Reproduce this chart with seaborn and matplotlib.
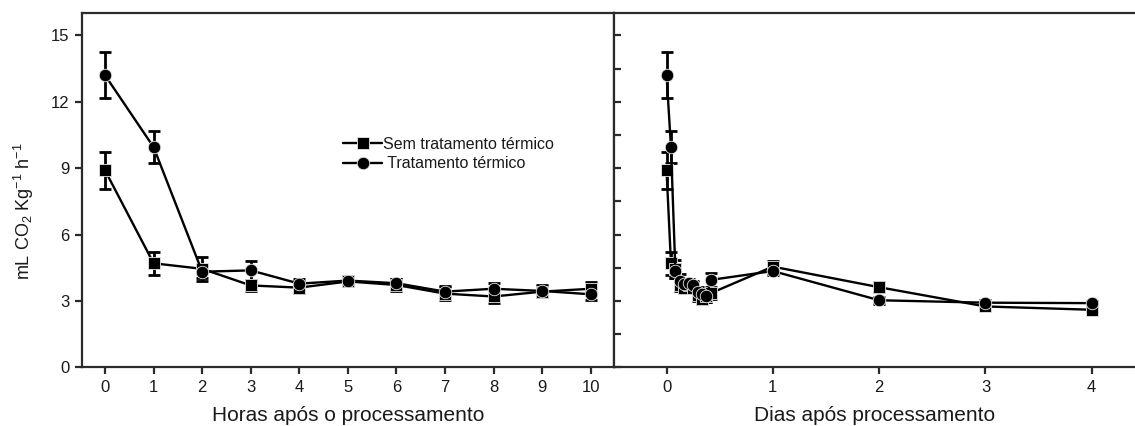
import numpy as np
import pandas as pd
import matplotlib
matplotlib.use("Agg")
import matplotlib.pyplot as plt
import seaborn as sns

# Respiration rate (mL CO2 kg-1 h-1) during the first hours after processing
hours = [0, 1, 2, 3, 4, 5, 6, 7, 8, 9, 10]
sem_h = [8.9, 4.7, 4.45, 3.7, 3.6, 3.88, 3.72, 3.33, 3.2, 3.42, 3.55]
sem_h_err = [0.85, 0.52, 0.55, 0.25, 0.25, 0.2, 0.25, 0.28, 0.3, 0.25, 0.3]
trat_h = [13.2, 9.95, 4.32, 4.38, 3.78, 3.92, 3.8, 3.42, 3.55, 3.45, 3.3]
trat_h_err = [1.05, 0.72, 0.3, 0.42, 0.2, 0.2, 0.2, 0.25, 0.28, 0.25, 0.25]

# Same monitoring expressed in days, extended up to day 4
days = [0, 1/24, 2/24, 3/24, 4/24, 5/24, 6/24, 7/24, 8/24, 9/24, 10/24, 1, 2, 3, 4]
sem_d = [8.9, 4.7, 4.45, 3.7, 3.6, 3.7, 3.6, 3.25, 3.1, 3.2, 3.35, 4.55, 3.62, 2.75, 2.6]
sem_d_err = [0.85, 0.52, 0.4, 0.25, 0.25, 0.2, 0.25, 0.25, 0.25, 0.25, 0.25, 0.25, 0.22, 0.12, 0.12]
trat_d = [13.2, 9.95, 4.35, 3.9, 3.75, 3.8, 3.7, 3.4, 3.3, 3.2, 3.95, 4.35, 3.03, 2.92, 2.9]
trat_d_err = [1.05, 0.72, 0.3, 0.3, 0.2, 0.2, 0.2, 0.25, 0.25, 0.25, 0.3, 0.2, 0.15, 0.1, 0.1]

labels = ["Sem tratamento térmico", " Tratamento térmico"]
y_ticks = [0, 3, 6, 9, 12, 15]

sns.set_theme(style="white")
plt.rcParams["font.family"] = ["Liberation Sans", "DejaVu Sans"]
plt.rcParams["mathtext.fontset"] = "custom"
plt.rcParams["mathtext.rm"] = "Liberation Sans"
plt.rcParams["mathtext.it"] = "Liberation Sans:italic"

spine_c = "#2b2b2b"
text_c = "#1a1a1a"
fig = plt.figure(figsize=(11.35, 4.26), dpi=100)
ax1 = fig.add_axes([0.072, 0.1378, 0.469, 0.831])
ax2 = fig.add_axes([0.541, 0.1378, 0.459, 0.831])


def long_frame(x, a, b):
    return pd.DataFrame({
        "x": list(x) * 2,
        "y": list(a) + list(b),
        "serie": [labels[0]] * len(x) + [labels[1]] * len(x),
    })


def draw(ax, x, a, a_err, b, b_err):
    df = long_frame(x, a, b)
    for vals, errs in ((a, a_err), (b, b_err)):
        ax.errorbar(x, vals, yerr=errs, fmt="none", ecolor="black",
                    elinewidth=2.0, capsize=4, capthick=2.0, zorder=2)
    sns.lineplot(data=df, x="x", y="y", hue="serie", style="serie",
                 palette={labels[0]: "black", labels[1]: "black"},
                 markers={labels[0]: "s", labels[1]: "o"}, dashes=False,
                 markersize=9, linewidth=1.7, markeredgecolor="#e8e8e8",
                 markeredgewidth=0.6, ax=ax, zorder=3)
    ax.set_ylim(0, 16)
    for s in ax.spines.values():
        s.set_color(spine_c)
        s.set_linewidth(1.6)


draw(ax1, hours, sem_h, sem_h_err, trat_h, trat_h_err)
draw(ax2, days, sem_d, sem_d_err, trat_d, trat_d_err)

# Left panel: hours
ax1.set_xlim(-0.48, 10.48)
ax1.set_xticks(hours)
ax1.set_yticks(y_ticks)
ax1.tick_params(axis="both", direction="out", length=5, width=1.6,
                color=spine_c, labelsize=12, labelcolor=text_c, pad=4,
                left=True, bottom=True)
ax1.set_xlabel("Horas após o processamento", fontsize=15, labelpad=8,
               color=text_c)
ax1.set_ylabel(r"mL CO$_2$ Kg$^{\mathregular{-1}}$ h$^{\mathregular{-1}}$",
               fontsize=13, color=text_c)
ax1.yaxis.set_label_coords(-0.086, 0.44)

handles, _ = ax1.get_legend_handles_labels()
leg = ax1.legend(handles[:2], labels, loc="upper left",
                 bbox_to_anchor=(0.478, 0.67), frameon=False, fontsize=11.5,
                 handlelength=2.5, handletextpad=0.05, labelspacing=0.3,
                 borderaxespad=0)
for t in leg.get_texts():
    t.set_color(text_c)
ax2.get_legend().remove()

# Right panel: days
ax2.set_xlim(-0.494, 4.407)
ax2.set_xticks([0, 1, 2, 3, 4])
ax2.set_yticks(np.arange(0, 15.1, 1.5))
ax2.set_yticklabels([])
ax2.spines["right"].set_visible(False)
ax2.tick_params(axis="x", direction="out", length=5, width=1.6, color=spine_c,
                labelsize=12, labelcolor=text_c, pad=4, bottom=True)
ax2.tick_params(axis="y", direction="in", length=5, width=1.6, color=spine_c,
                left=True)
ax2.set_xlabel("Dias após processamento", fontsize=15, labelpad=8,
               color=text_c)
ax2.set_ylabel("")

fig.savefig("out.png", dpi=100)
